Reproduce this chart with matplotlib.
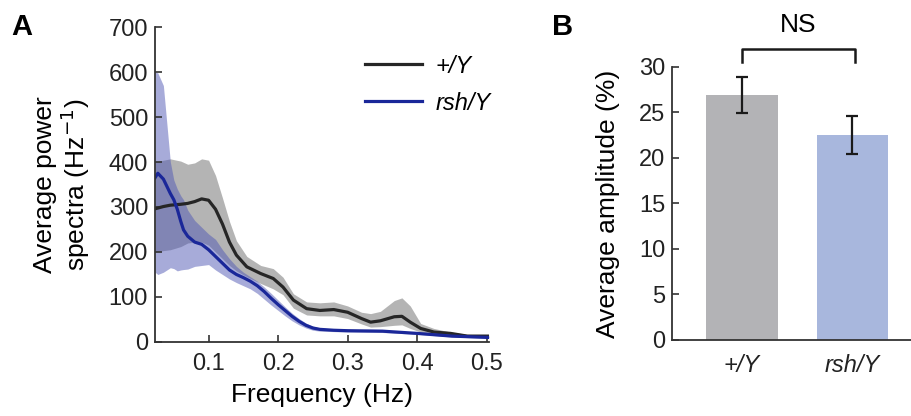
import numpy as np
import matplotlib
matplotlib.use("Agg")
import matplotlib.pyplot as plt

plt.rcParams['font.family'] = ['Liberation Sans', 'DejaVu Sans']

# Panel A: power spectra
freq_wt = [0.023, 0.035, 0.045, 0.06, 0.07, 0.08, 0.09, 0.1, 0.11, 0.12, 0.13, 0.14,
           0.155, 0.175, 0.193, 0.207, 0.222, 0.241, 0.26, 0.28, 0.3, 0.32, 0.333,
           0.347, 0.367, 0.378, 0.39, 0.405, 0.424, 0.448, 0.472, 0.503]
mean_wt = [296, 301, 304, 306, 308, 312, 318, 315, 295, 262, 222, 193,
           167, 152, 141, 122, 93, 74, 70, 72, 66, 52, 44,
           47, 56, 57, 44, 30, 22, 19, 13, 13]
upper_wt = [400, 404, 407, 402, 395, 398, 407, 404, 370, 320, 268, 225,
            190, 170, 163, 144, 107, 89, 87, 89, 80, 66, 63,
            68, 92, 98, 80, 41, 30, 22, 17, 15]
lower_wt = [200, 203, 205, 212, 220, 222, 222, 215, 200, 185, 170, 158,
            145, 130, 118, 105, 75, 60, 58, 58, 52, 40, 33,
            34, 37, 38, 30, 22, 15, 12, 10, 10]

freq_rsh = [0.023, 0.027, 0.035, 0.045, 0.05, 0.055, 0.06, 0.064, 0.07, 0.08,
            0.09, 0.1, 0.11, 0.12, 0.13, 0.14, 0.15, 0.16, 0.17, 0.18, 0.19, 0.2,
            0.21, 0.22, 0.23, 0.24, 0.25, 0.26, 0.28, 0.3, 0.35, 0.4, 0.45, 0.503]
mean_rsh = [365, 375, 362, 330, 316, 295, 268, 249, 235, 222,
            217, 205, 190, 175, 160, 150, 143, 135, 125, 112, 97, 83,
            70, 57, 46, 37, 31, 28, 26, 25, 24, 19, 13, 10]
upper_rsh = [600, 598, 570, 400, 360, 340, 325, 316, 293, 270,
             255, 240, 228, 205, 185, 168, 155, 145, 135, 122, 108, 93,
             78, 64, 52, 42, 35, 31, 29, 28, 27, 21, 15, 12]
lower_rsh = [155, 150, 155, 165, 163, 158, 160, 161, 162, 168,
             170, 172, 160, 150, 140, 132, 125, 118, 108, 95, 82, 70,
             58, 47, 38, 31, 26, 24, 23, 22, 21, 17, 11, 8]

# Panel B: average amplitude
genotypes = ['+/Y', 'rsh/Y']
amplitude = [26.9, 22.5]
amp_err = [2.0, 2.1]

fig = plt.figure(figsize=(9.12, 4.16), dpi=100)
axA = fig.add_axes([0.170, 0.178, 0.366, 0.757])
axB = fig.add_axes([0.737, 0.183, 0.263, 0.656])

# ---- Panel A
axA.fill_between(freq_wt, lower_wt, upper_wt, color='#5a5a5a', alpha=0.45, lw=0)
axA.fill_between(freq_rsh, lower_rsh, upper_rsh, color='#5058b4', alpha=0.5, lw=0)
axA.plot(freq_wt, mean_wt, color='#262626', lw=2.3, label='+/Y')
axA.plot(freq_rsh, mean_rsh, color='#1a2799', lw=2.3, label='rsh/Y')
axA.set_xlim(0.023, 0.503)
axA.set_ylim(0, 700)
axA.set_xticks([0.1, 0.2, 0.3, 0.4, 0.5])
axA.set_yticks(range(0, 701, 100))
axA.set_xlabel('Frequency (Hz)', fontsize=19, labelpad=6)
axA.set_ylabel('Average power\nspectra (Hz$^{-1}$)', fontsize=19, labelpad=12,
               linespacing=1.05)
leg = axA.legend(loc='upper right', frameon=False, fontsize=17, handlelength=2.4,
                 bbox_to_anchor=(1.07, 0.98), labelspacing=0.6, handletextpad=0.6)
for t in leg.get_texts():
    t.set_style('italic')

# ---- Panel B
x = np.arange(len(amplitude))
axB.bar(x, amplitude, width=0.65, color=['#b3b3b6', '#a8b7dd'])
axB.errorbar(x, amplitude, yerr=amp_err, fmt='none', ecolor='#1a1a1a',
             elinewidth=1.6, capsize=4, capthick=1.6)
axB.set_xlim(-0.633, 1.54)
axB.set_ylim(0, 30)
axB.set_yticks(range(0, 31, 5))
axB.set_xticks(x)
axB.set_xticklabels(genotypes, fontsize=17, style='italic')
axB.set_ylabel('Average amplitude (%)', fontsize=19, labelpad=14)
axB.plot([0, 0, 1.02, 1.02], [30.5, 32.0, 32.0, 30.5], color='#1a1a1a', lw=1.8,
         clip_on=False)
axB.text(0.51, 34.6, 'NS', ha='center', va='center', fontsize=19, clip_on=False)

for ax in (axA, axB):
    for s in ('top', 'right'):
        ax.spines[s].set_visible(False)
    for s in ('left', 'bottom'):
        ax.spines[s].set_linewidth(1.3)
        ax.spines[s].set_color('#333333')
    ax.tick_params(direction='in', length=5, width=1.2, labelsize=17,
                   colors='#333333', labelcolor='#222222', pad=5)
axA.tick_params(axis='x', pad=8)
axB.tick_params(axis='x', length=0, pad=10)

fig.text(0.012, 0.935, 'A', fontsize=21, fontweight='bold', va='center')
fig.text(0.605, 0.935, 'B', fontsize=21, fontweight='bold', va='center')

fig.savefig('out.png', dpi=100)
